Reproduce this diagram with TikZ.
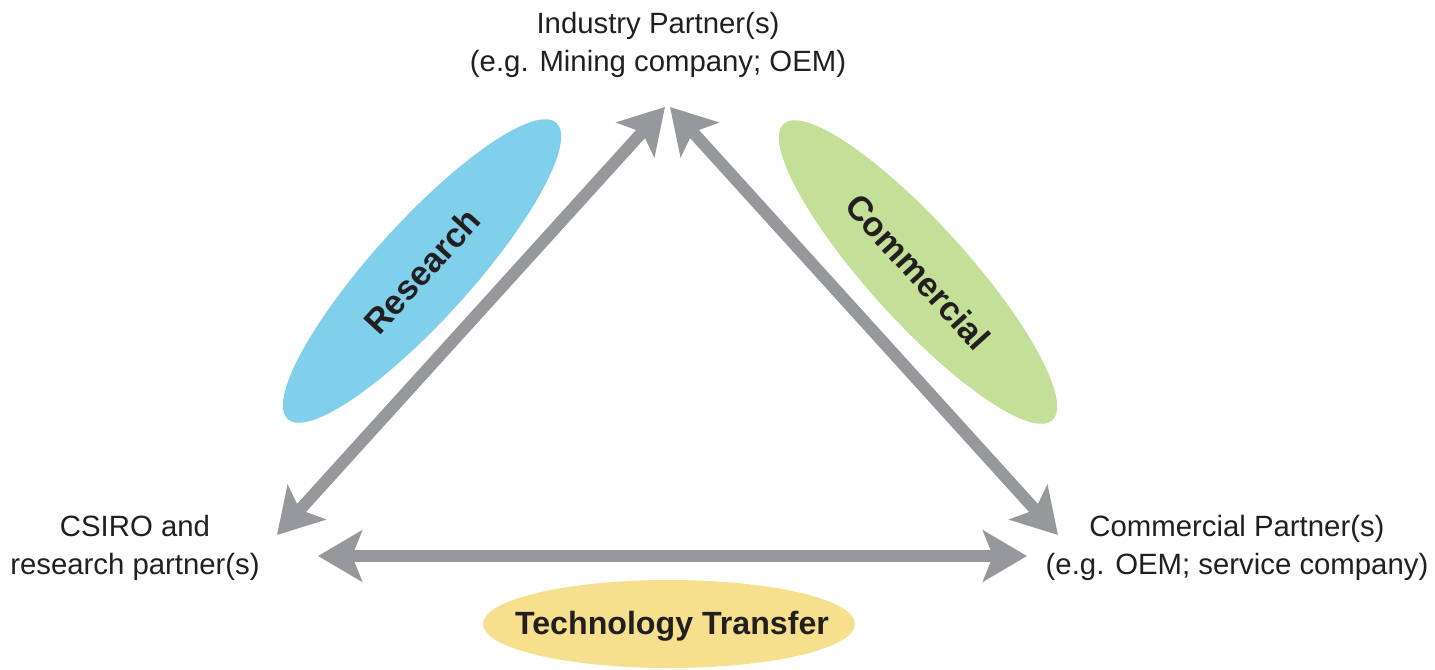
\documentclass[tikz,border=0pt]{standalone}
\usepackage{fontspec}
\setmainfont{Liberation Sans}
\usetikzlibrary{arrows.meta,shapes.geometric}
\definecolor{arrgray}{HTML}{96989B}
\definecolor{txt}{HTML}{231F20}
\definecolor{resblue}{HTML}{80CFEB}
\definecolor{comgreen}{HTML}{C3DF98}
\definecolor{techyellow}{HTML}{F6E08E}
\begin{document}
\begin{tikzpicture}[x=0.02cm,y=-0.02cm,
  tip/.tip={Stealth[length=0.88cm,width=1.02cm,inset=0.2cm]},
  conn/.style={draw=arrgray, line width=0.24cm, tip-tip},
  party/.style={align=center, font=\fontsize{16.7}{22}\selectfont, text=txt, inner sep=0pt},
  theme/.style={ellipse, inner sep=0pt, font=\bfseries\fontsize{19.5}{22}\selectfont, text=txt},
  label/.style={inner sep=0pt, font=\bfseries\fontsize{18.3}{22}\selectfont, text=txt}]
\fill[white] (0,0) rectangle (1435,669);
\useasboundingbox (0,0) rectangle (1435,669);
% ellipses
\node[theme, fill=resblue, minimum width=8cm, minimum height=1.96cm, rotate=47.8] (res) at (422,271) {Research};
\node[theme, fill=comgreen, minimum width=8cm, minimum height=1.96cm, rotate=-47.8] (com) at (918,272) {Commercial};
\fill[techyellow] (669,624) ellipse (186 and 44);
\node[label] (tech) at (672,626) {Technology Transfer};
% parties
\node[party] (ind) at (658,45) {Industry Partner(s)\\(e.g. Mining company; OEM)};
\node[party] (csiro) at (135,548) {CSIRO and\\research partner(s)};
\node[party] (cp) at (1237,548) {Commercial Partner(s)\\(e.g. OEM; service company)};
% arrow end points
\coordinate (indL) at (665,107);
\coordinate (indR) at (670,107);
\coordinate (csiroU) at (277,535);
\coordinate (csiroR) at (318,556);
\coordinate (cpU) at (1058,535);
\coordinate (cpL) at (1027,556);
% connectors
\draw[conn] (csiroU) -- (indL);
\draw[conn] (indR) -- (cpU);
\draw[conn] (csiroR) -- (cpL);
\end{tikzpicture}
\end{document}
